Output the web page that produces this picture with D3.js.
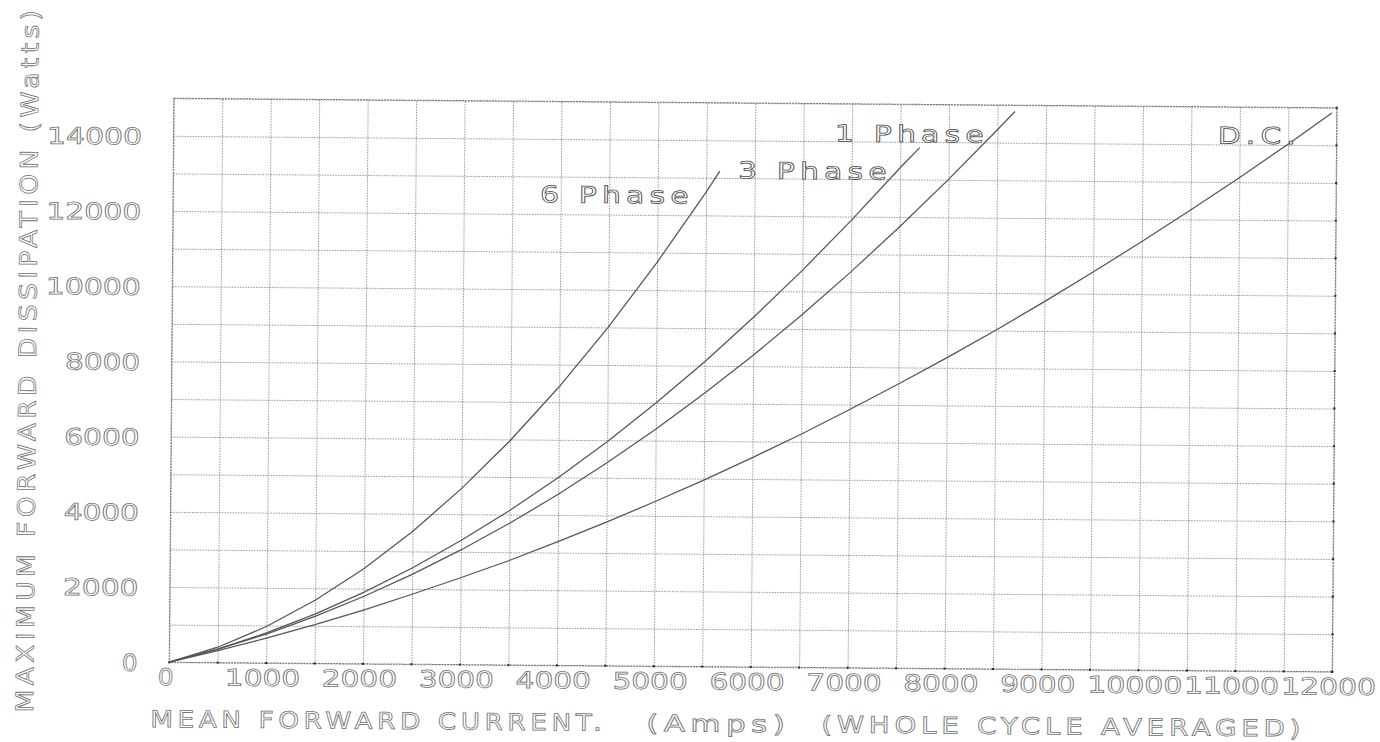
<!DOCTYPE html>
<html>
<head>
<meta charset="utf-8">
<script src="https://cdn.jsdelivr.net/npm/d3@7"></script>
<style>
  html, body { margin: 0; padding: 0; background: #fff; }
  svg { display: block; }
</style>
</head>
<body>
<svg id="chart" width="1380" height="742"></svg>
<script>
// Mean forward current (A) and maximum forward dissipation (W) for each supply configuration
const currentDC = [0, 500, 1000, 1500, 2000, 2500, 3000, 3500, 4000, 4500, 5000, 5500, 6000,
                   6500, 7000, 7500, 8000, 8500, 9000, 9500, 10000, 10500, 11000, 11500, 11950];
const powerDC   = [0, 320, 660, 1030, 1430, 1860, 2310, 2780, 3290, 3820, 4380, 4960, 5570,
                   6200, 6870, 7560, 8270, 9010, 9780, 10580, 11400, 12250, 13120, 14020, 14860];

const current1Ph = [0, 500, 1000, 1500, 2000, 2500, 3000, 3500, 4000, 4500, 5000, 5500, 6000,
                    6500, 7000, 7500, 8000, 8500, 8680];
const power1Ph   = [0, 360, 770, 1250, 1790, 2390, 3050, 3770, 4550, 5400, 6300, 7270, 8290,
                    9380, 10530, 11740, 13010, 14340, 14830];

const current3Ph = [0, 500, 1000, 1500, 2000, 2500, 3000, 3500, 4000, 4500, 5000, 5500, 6000,
                    6500, 7000, 7500, 7700];
const power3Ph   = [0, 360, 800, 1310, 1900, 2560, 3300, 4110, 5000, 5960, 7000, 8110, 9300,
                    10560, 11900, 13310, 13850];

const current6Ph = [0, 500, 1000, 1500, 2000, 2500, 3000, 3500, 4000, 4500, 5000, 5500, 5640];
const power6Ph   = [0, 410, 970, 1680, 2530, 3530, 4680, 5970, 7410, 9000, 10740, 12620, 13180];

const seriesNames = ["D.C.", "1 Phase", "3 Phase", "6 Phase"];

const xTickValues = [0, 1000, 2000, 3000, 4000, 5000, 6000, 7000, 8000, 9000, 10000, 11000, 12000];
const yTickValues = [0, 2000, 4000, 6000, 8000, 10000, 12000, 14000];

const xTitleParts = ["MEAN FORWARD CURRENT.", "(Amps)", "(WHOLE CYCLE AVERAGED)"];
const yTitle = "MAXIMUM FORWARD DISSIPATION (Watts)";

// ---- layout ----
const plot = { left: 171.5, right: 1334.5, top: 103, bottom: 667 };
const tilt = 0.47;            // the plotted sheet sits slightly askew
const pivot = [753, 386];
const fontFamily = "'DejaVu Sans', 'Liberation Sans', sans-serif";
const fontSize = 23;
const charPitch = 19.8;
const spacing = 4;            // extra pen travel between letters

// curve label anchors (data units: left edge, vertical centre) and widths
const labelLayout = {
  "6 Phase": { x: 3786, y: 12535, w: 150 },
  "3 Phase": { x: 5827, y: 13215, w: 150 },
  "1 Phase": { x: 6824, y: 14221, w: 150 },
  "D.C.":    { x: 10776, y: 14250, w: 79 }
};

// x-title pieces: left edge (px) and width (px)
const xTitleLayout = [
  { x: 153, w: 452 },
  { x: 649, w: 140 },
  { x: 824, w: 480 }
];
const xTitleY = 723.5;

const x = d3.scaleLinear().domain([0, 12000]).range([plot.left, plot.right]);
const y = d3.scaleLinear().domain([0, 15000]).range([plot.bottom, plot.top]);

const svg = d3.select("#chart");
const g = svg.append("g")
  .attr("transform", `rotate(${tilt},${pivot[0]},${pivot[1]})`);

const gridColor = "#8c8c8c";
const textStroke = "#707070";

function styleText(sel) {
  sel.attr("font-family", fontFamily)
     .attr("font-size", fontSize)
     .attr("fill", "#ffffff")
     .attr("stroke", textStroke)
     .attr("stroke-width", 0.75);
}

// ---- grid (vertical every 500 A, horizontal every 1000 W) ----
const vGrid = g.append("g")
  .attr("transform", `translate(0,${plot.bottom})`)
  .call(d3.axisBottom(x)
    .tickValues(d3.range(0, 12001, 500))
    .tickSize(-(plot.bottom - plot.top))
    .tickFormat(""));
vGrid.select(".domain").remove();
vGrid.selectAll("line")
  .attr("stroke", gridColor)
  .attr("stroke-width", 0.85)
  .attr("stroke-dasharray", "1.6 1.1");

const hGrid = g.append("g")
  .attr("transform", `translate(${plot.left},0)`)
  .call(d3.axisLeft(y)
    .tickValues(d3.range(0, 15001, 1000))
    .tickSize(-(plot.right - plot.left))
    .tickFormat(""));
hGrid.select(".domain").remove();
hGrid.selectAll("line")
  .attr("stroke", gridColor)
  .attr("stroke-width", 0.85)
  .attr("stroke-dasharray", "1.6 1.1");

// plot frame
g.append("rect")
  .attr("x", x(0)).attr("y", y(15000))
  .attr("width", x(12000) - x(0)).attr("height", y(0) - y(15000))
  .attr("fill", "none")
  .attr("stroke", "#6e6e6e")
  .attr("stroke-width", 1)
  .attr("stroke-dasharray", "2 1");

// pen dots where grid lines meet the bottom and right edges
g.append("g").selectAll("circle")
  .data(d3.range(0, 12001, 500))
  .join("circle")
  .attr("cx", d => x(d)).attr("cy", y(0)).attr("r", 1.2).attr("fill", "#333");
g.append("g").selectAll("circle")
  .data(d3.range(0, 15001, 1000))
  .join("circle")
  .attr("cx", x(12000)).attr("cy", d => y(d)).attr("r", 1.2).attr("fill", "#333");

// ---- tick labels ----
const xLab = g.append("g")
  .attr("transform", `translate(0,${plot.bottom})`)
  .call(d3.axisBottom(x)
    .tickValues(xTickValues)
    .tickSize(0)
    .tickPadding(6.5)
    .tickFormat(d3.format("d")));
xLab.select(".domain").remove();
xLab.selectAll("text")
  .call(styleText)
  .attr("dx", -4)
  .attr("textLength", d => String(d).length * charPitch - 4)
  .attr("lengthAdjust", "spacingAndGlyphs");

const yLab = g.append("g")
  .attr("transform", `translate(${plot.left},0)`)
  .call(d3.axisLeft(y)
    .tickValues(yTickValues)
    .tickSize(0)
    .tickPadding(plot.left - 140)
    .tickFormat(d3.format("d")));
yLab.select(".domain").remove();
yLab.selectAll("text")
  .call(styleText)
  .attr("dy", "0.365em")
  .attr("textLength", d => String(d).length * charPitch - 4)
  .attr("lengthAdjust", "spacingAndGlyphs");

// ---- axis titles ----
g.selectAll("text.xtitle")
  .data(xTitleParts)
  .join("text")
  .attr("class", "xtitle")
  .attr("x", (d, i) => xTitleLayout[i].x)
  .attr("y", xTitleY)
  .attr("dy", "0.365em")
  .attr("letter-spacing", spacing)
  .attr("textLength", (d, i) => xTitleLayout[i].w + spacing)
  .attr("lengthAdjust", "spacingAndGlyphs")
  .call(styleText)
  .text(d => d);

g.append("text")
  .attr("transform", "translate(27,365) rotate(-90)")
  .attr("text-anchor", "middle")
  .attr("dy", "0.365em")
  .attr("letter-spacing", spacing)
  .attr("textLength", 703 + spacing)
  .attr("lengthAdjust", "spacingAndGlyphs")
  .call(styleText)
  .attr("font-size", 24)
  .text(yTitle);

// ---- curves ----
const series = [
  { name: seriesNames[0], xs: currentDC,  ys: powerDC },
  { name: seriesNames[1], xs: current1Ph, ys: power1Ph },
  { name: seriesNames[2], xs: current3Ph, ys: power3Ph },
  { name: seriesNames[3], xs: current6Ph, ys: power6Ph }
];

const line = d3.line()
  .x(d => x(d[0]))
  .y(d => y(d[1]))
  .curve(d3.curveLinear);

g.append("g").selectAll("path")
  .data(series)
  .join("path")
  .attr("d", s => line(s.xs.map((v, i) => [v, s.ys[i]])))
  .attr("fill", "none")
  .attr("stroke", "#555555")
  .attr("stroke-width", 1.25)
  .attr("stroke-linejoin", "round");

// curve labels
g.append("g").selectAll("text")
  .data(seriesNames)
  .join("text")
  .attr("x", d => x(labelLayout[d].x))
  .attr("y", d => y(labelLayout[d].y))
  .attr("dy", "0.365em")
  .attr("letter-spacing", spacing)
  .attr("textLength", d => labelLayout[d].w + spacing)
  .attr("lengthAdjust", "spacingAndGlyphs")
  .call(styleText)
  .attr("stroke", "#4a4a4a")
  .text(d => d);
</script>
</body>
</html>
